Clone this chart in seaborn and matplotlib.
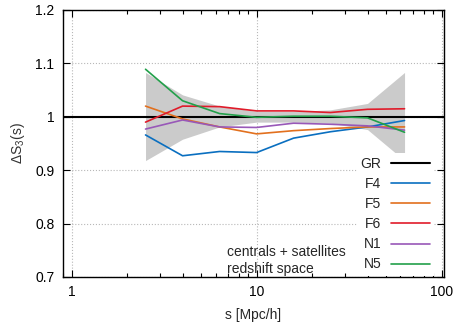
import numpy as np
import pandas as pd
import seaborn as sns
import matplotlib
matplotlib.use('Agg')
import matplotlib.pyplot as plt
from matplotlib.ticker import FuncFormatter, LogLocator, MultipleLocator
from matplotlib.lines import Line2D

# Data
s = [2.51, 3.98, 6.31, 10.0, 15.85, 25.1, 39.8, 63.1]
band_lo = [0.918, 0.958, 0.981, 0.990, 0.990, 0.988, 0.976, 0.918]
band_hi = [1.083, 1.041, 1.020, 1.010, 1.010, 1.013, 1.025, 1.083]
f4 = [0.966, 0.927, 0.935, 0.933, 0.960, 0.972, 0.981, 0.993]
f5 = [1.020, 0.996, 0.981, 0.968, 0.974, 0.978, 0.981, 0.981]
f6 = [0.990, 1.020, 1.019, 1.011, 1.011, 1.008, 1.014, 1.015]
n1 = [0.977, 0.994, 0.981, 0.980, 0.988, 0.986, 0.983, 0.975]
n5 = [1.089, 1.030, 1.006, 0.999, 1.001, 1.001, 0.998, 0.971]
models = ['F4', 'F5', 'F6', 'N1', 'N5']
colors = {'F4': '#0a6fc0', 'F5': '#e2701e', 'F6': '#e01b2a', 'N1': '#9858b8', 'N5': '#22a04a'}

rows = []
for name, vals in zip(models, [f4, f5, f6, n1, n5]):
    for x, y in zip(s, vals):
        rows.append({'s': x, 'dS3': y, 'model': name})
df = pd.DataFrame(rows)

sns.set_theme(style='ticks')
plt.rcParams['font.family'] = ['Liberation Sans', 'DejaVu Sans']
plt.rcParams['mathtext.default'] = 'regular'

fig = plt.figure(figsize=(4.6, 3.22), dpi=100)
ax = fig.add_axes([0.1363, 0.1398, 0.8287, 0.8292])

ax.fill_between(s, band_lo, band_hi, color='#cbcbcb', lw=0, zorder=1)
ax.axhline(1.0, color='black', lw=1.5, zorder=2)
sns.lineplot(data=df, x='s', y='dS3', hue='model', palette=colors, lw=1.2,
             ax=ax, legend=False, zorder=3)

ax.set_xscale('log')
ax.set_xlim(0.895, 103)
ax.set_ylim(0.7, 1.2)
ax.xaxis.set_major_locator(LogLocator(base=10, numticks=5))
ax.xaxis.set_minor_locator(LogLocator(base=10, subs=np.arange(2, 10), numticks=20))
ax.yaxis.set_major_locator(MultipleLocator(0.1))
fmt = FuncFormatter(lambda v, p: '%g' % round(v, 3))
ax.xaxis.set_major_formatter(fmt)
ax.yaxis.set_major_formatter(fmt)
ax.xaxis.set_minor_formatter(FuncFormatter(lambda v, p: ''))

ax.grid(True, which='major', color='#b8b8b8', ls=':', lw=0.8)
ax.tick_params(which='both', direction='in', top=True, right=True, labelsize=10,
               colors='black', width=0.8, pad=6)
ax.tick_params(which='major', length=5)
ax.tick_params(which='minor', length=3)
for sp in ax.spines.values():
    sp.set_color('black')
    sp.set_linewidth(1.0)

ax.set_xlabel('s [Mpc/h]', fontsize=10, labelpad=6)
ax.set_ylabel(r'$\Delta S_3(s)$', fontsize=10, color='#333333', labelpad=6)

ax.text(0.432, 0.003, 'centrals + satellites\nredshift space', transform=ax.transAxes,
        fontsize=10, va='bottom', ha='left', linespacing=1.25)

handles = [Line2D([], [], color='black', lw=1.5)] + \
          [Line2D([], [], color=colors[m], lw=1.2) for m in models]
leg = ax.legend(handles, ['GR'] + models, loc='lower right', bbox_to_anchor=(0.975, 0.005),
                markerfirst=False, fontsize=10, handlelength=2.8, handletextpad=0.7,
                labelspacing=0.44, frameon=True, fancybox=False, framealpha=1,
                borderpad=0.3, borderaxespad=0.0)
leg.get_frame().set_edgecolor('none')
leg.get_frame().set_facecolor('white')

fig.savefig('out.png', dpi=100)
